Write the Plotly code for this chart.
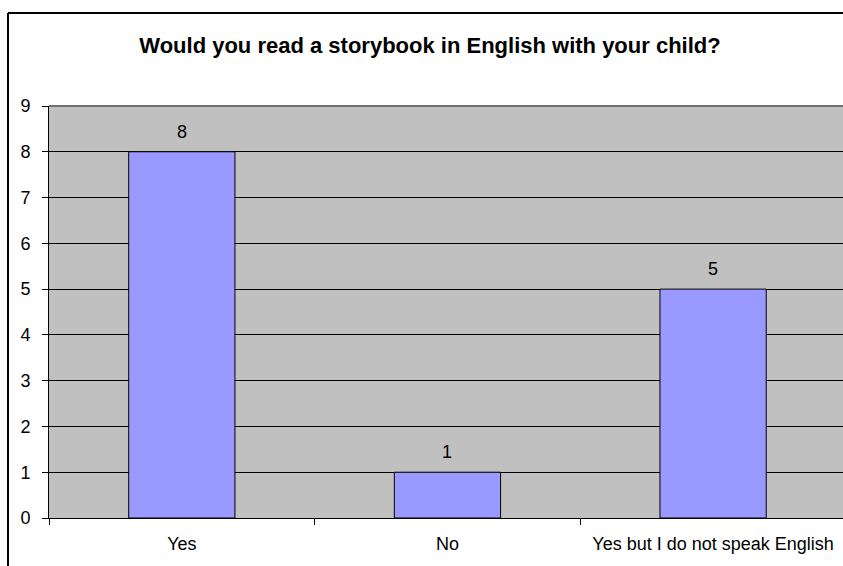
import plotly.graph_objects as go

# Survey responses
categories = ["Yes", "No", "Yes but I do not speak English"]
counts = [8, 1, 5]
y_ticks = list(range(0, 10))

W, H = 843, 566
L, R, T, B = 49, 0, 106, 48
pw, ph = W - L - R, H - T - B
FONT = "Arial, Liberation Sans"

fig = go.Figure()
fig.add_trace(go.Bar(
    x=categories, y=counts, width=0.4,
    marker=dict(color="#9999FF", line=dict(color="black", width=1)),
    hoverinfo="skip",
))

# value labels above each bar
for c, v in zip(categories, counts):
    fig.add_annotation(x=c, y=v, text=str(v), showarrow=False,
                       yanchor="bottom", yshift=8,
                       font=dict(family=FONT, size=18, color="black"))

# outer chart frame (left and top edges)
def px_x(px):
    return (px - L) / pw

def px_y(py):
    return (H - B - py) / ph

fig.add_shape(type="line", xref="paper", yref="paper",
              x0=px_x(8), x1=px_x(8), y0=px_y(13), y1=px_y(570),
              line=dict(color="black", width=2))
fig.add_shape(type="line", xref="paper", yref="paper",
              x0=px_x(8), x1=px_x(850), y0=px_y(13), y1=px_y(13),
              line=dict(color="black", width=2))
# plot-area top border
fig.add_shape(type="line", xref="paper", yref="paper",
              x0=0, x1=1.01, y0=1, y1=1,
              line=dict(color="#707070", width=2))

fig.update_layout(
    width=W, height=H,
    margin=dict(l=L, r=R, t=T, b=B),
    paper_bgcolor="white",
    plot_bgcolor="#C0C0C0",
    showlegend=False,
    font=dict(family=FONT, size=18, color="black"),
    title=dict(text="<b>Would you read a storybook in English with your child?</b>",
               x=430 / W, xanchor="center", xref="container",
               y=1 - 45 / H, yanchor="middle", yref="container",
               font=dict(family=FONT, size=22, color="black")),
    bargap=0.6,
)
fig.update_xaxes(
    type="category", range=[-0.5, 2.489],
    tickson="boundaries", ticks="outside", ticklen=6, tickcolor="black", tickwidth=1,
    showline=True, linecolor="black", linewidth=1,
    showgrid=False, ticklabelstandoff=9,
    tickfont=dict(size=18),
)
fig.update_yaxes(
    range=[0, 9], tickvals=y_ticks,
    ticks="outside", ticklen=6, tickcolor="black", tickwidth=1,
    showline=True, linecolor="black", linewidth=1,
    showgrid=True, gridcolor="black", gridwidth=1,
    zeroline=False, ticklabelstandoff=8,
    tickfont=dict(size=18),
)

fig.write_html("out.html")
